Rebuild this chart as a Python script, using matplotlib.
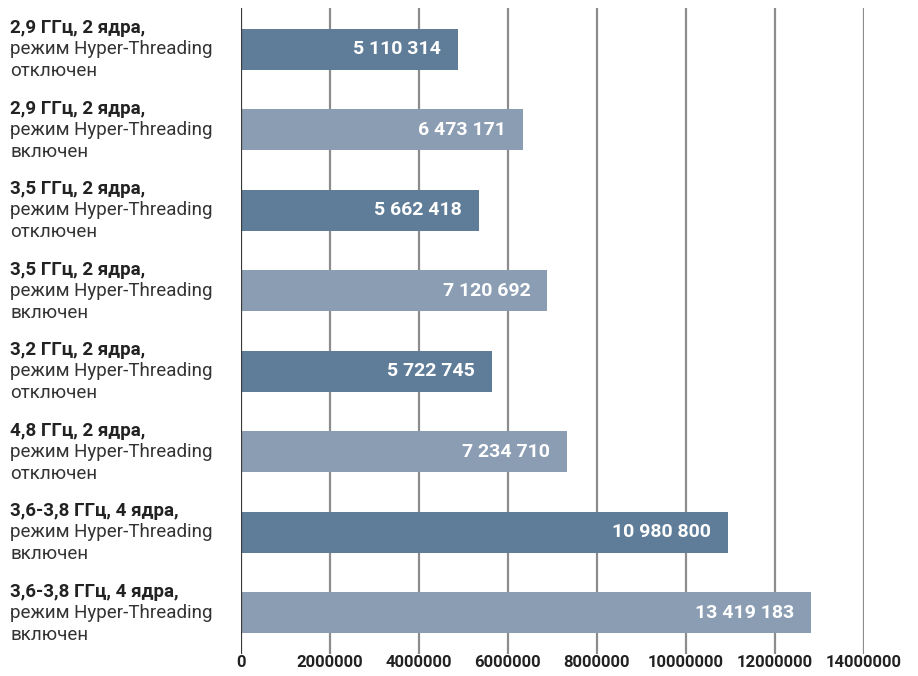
import matplotlib.pyplot as plt
from matplotlib.transforms import blended_transform_factory

plt.rcParams['font.family'] = ['Roboto', 'DejaVu Sans']

titles = ["2,9 ГГц, 2 ядра,", "2,9 ГГц, 2 ядра,", "3,5 ГГц, 2 ядра,", "3,5 ГГц, 2 ядра,",
          "3,2 ГГц, 2 ядра,", "4,8 ГГц, 2 ядра,", "3,6-3,8 ГГц, 4 ядра,", "3,6-3,8 ГГц, 4 ядра,"]
modes = ["отключен", "включен", "отключен", "включен",
         "отключен", "отключен", "включен", "включен"]
# bar lengths as drawn in the picture
values = [4890000, 6350000, 5360000, 6890000, 5650000, 7340000, 10940000, 12820000]
value_labels = ["5 110 314", "6 473 171", "5 662 418", "7 120 692",
                "5 722 745", "7 234 710", "10 980 800", "13 419 183"]
ticks = [0, 2000000, 4000000, 6000000, 8000000, 10000000, 12000000, 14000000]

dark = "#5f7d99"
light = "#8a9db3"

W, H = 918, 676
fig = plt.figure(figsize=(W / 100, H / 100), dpi=100)
ax = fig.add_axes([240.7 / W, 22 / H, 623 / W, 646 / H])

pos = list(range(len(values)))
colors = [dark if i % 2 == 0 else light for i in pos]
ax.barh(pos, values, height=0.51, color=colors, zorder=3)

ax.set_xlim(0, 14000000)
ax.set_ylim(7.51, -0.515)

for t in ticks[1:]:
    ax.axvline(t, color="#8c8c8c", lw=1.6, zorder=1)
ax.axvline(0, color="#3a3a3a", lw=1.6, zorder=4)

for s in ax.spines.values():
    s.set_visible(False)
ax.set_yticks([])
ax.set_xticks(ticks)
ax.set_xticklabels([str(t) for t in ticks], fontsize=12, fontweight="bold", color="#222222")
ax.tick_params(axis="x", length=0, pad=1)

for i, v in enumerate(values):
    ax.annotate(value_labels[i], xy=(v, i), xytext=(-17, 0), textcoords="offset pixels",
                ha="right", va="center", color="white", fontsize=14, fontweight="bold", zorder=5)

blend = blended_transform_factory(fig.transFigure, ax.transData)
for i in pos:
    ax.annotate(titles[i], xy=(10 / W, i), xycoords=blend, xytext=(0, 21), textcoords="offset pixels",
                ha="left", va="center", fontsize=13.5, fontweight="bold", color="#222222",
                annotation_clip=False)
    ax.annotate("режим Hyper-Threading", xy=(10 / W, i), xycoords=blend, xytext=(0, 0),
                textcoords="offset pixels", ha="left", va="center", fontsize=13.5, color="#333333",
                annotation_clip=False)
    ax.annotate(modes[i], xy=(10 / W, i), xycoords=blend, xytext=(0, -22), textcoords="offset pixels",
                ha="left", va="center", fontsize=13.5, color="#333333", annotation_clip=False)

fig.savefig("out.png", dpi=100)
